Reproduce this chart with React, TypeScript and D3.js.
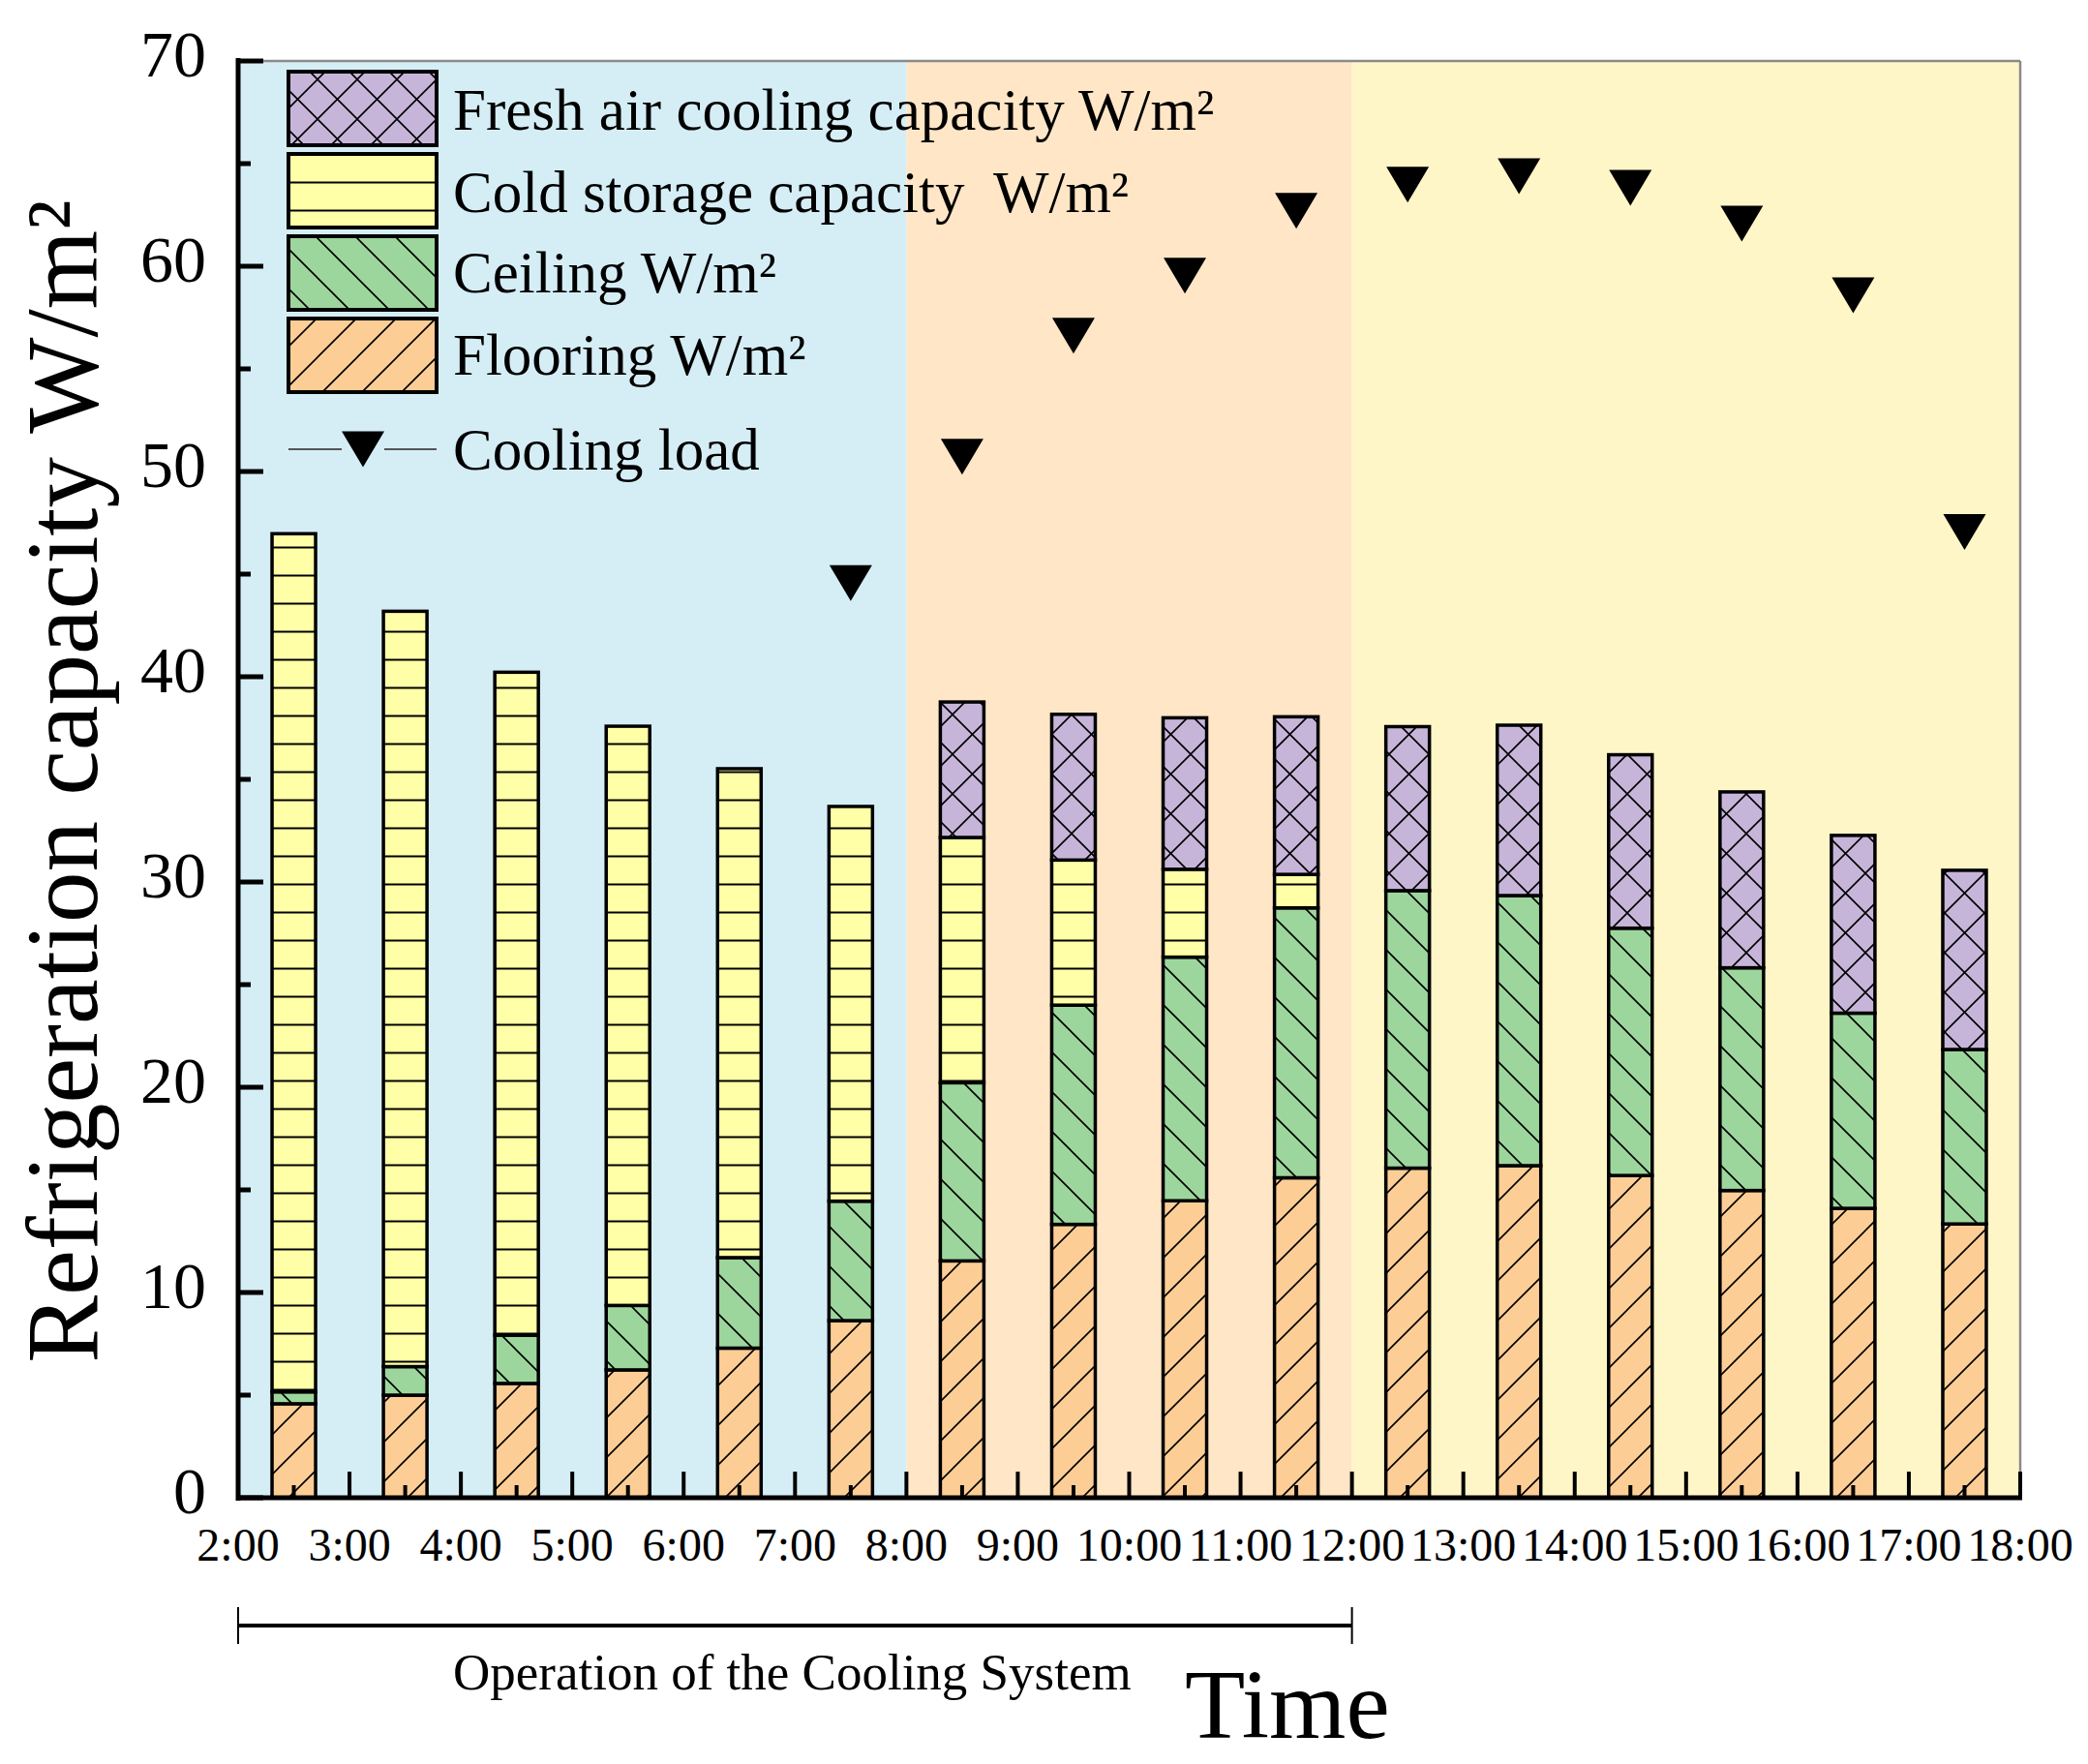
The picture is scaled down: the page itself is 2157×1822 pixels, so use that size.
import React from "react";
import * as d3 from "d3";

const W = 2157;
const H = 1822;

// Bars start hours (bar i spans hour i .. i+1, centred at the half hour)
const hours = [2, 3, 4, 5, 6, 7, 8, 9, 10, 11, 12, 13, 14, 15, 16, 17];
const tickHours = [2, 3, 4, 5, 6, 7, 8, 9, 10, 11, 12, 13, 14, 15, 16, 17, 18];
const tickLabels = ["2:00", "3:00", "4:00", "5:00", "6:00", "7:00", "8:00", "9:00", "10:00", "11:00", "12:00", "13:00", "14:00", "15:00", "16:00", "17:00", "18:00"];
const yTicks = [0, 10, 20, 30, 40, 50, 60, 70];
const yMinor = [5, 15, 25, 35, 45, 55, 65];

const flooring = [4.58, 5.0, 5.57, 6.23, 7.29, 8.63, 11.54, 13.32, 14.47, 15.59, 16.06, 16.18, 15.7, 14.97, 14.1, 13.34];
const ceiling = [0.58, 1.39, 2.35, 3.14, 4.41, 5.82, 8.68, 10.68, 11.87, 13.15, 13.52, 13.16, 12.05, 10.85, 9.51, 8.5];
const coldStorage = [41.81, 36.8, 32.3, 28.22, 23.82, 19.23, 11.95, 7.07, 4.28, 1.63, 0, 0, 0, 0, 0, 0];
const freshAir = [0, 0, 0, 0, 0, 0, 6.6, 7.1, 7.38, 7.68, 7.99, 8.3, 8.45, 8.57, 8.66, 8.73];

const loadHours = [7, 8, 9, 10, 11, 12, 13, 14, 15, 16, 17];
const coolingLoad = [44.56, 50.72, 56.62, 59.54, 62.7, 63.97, 64.39, 63.82, 62.08, 58.59, 47.05];

// background periods [start, end]
const periods = [
  { start: 2, end: 8, color: "#d5eef6" },
  { start: 8, end: 12, color: "#ffe6c7" },
  { start: 12, end: 18, color: "#fff6c8" },
];

const seriesKeys = ["flooring", "ceiling", "storage", "fresh"];
const seriesInfo: Record<string, { fill: string; pattern: string; label: string }> = {
  fresh: { fill: "#c6b5d9", pattern: "patCross", label: "Fresh air cooling capacity W/m²" },
  storage: { fill: "#ffffa8", pattern: "patHoriz", label: "Cold storage capacity  W/m²" },
  ceiling: { fill: "#9dd69d", pattern: "patBack", label: "Ceiling W/m²" },
  flooring: { fill: "#fdcd96", pattern: "patFwd", label: "Flooring W/m²" },
};
const legendOrder = ["fresh", "storage", "ceiling", "flooring"];

const FONT = "'Liberation Serif', 'Times New Roman', serif";

export default function App() {
  const left = 246;
  const right = 2087;
  const top = 63;
  const bottom = 1547;

  const x = d3.scaleLinear().domain([2, 18]).range([left, right]);
  const y = d3.scaleLinear().domain([0, 70]).range([bottom, top]);

  const rows = hours.map((h, i) => ({
    hour: h,
    flooring: flooring[i],
    ceiling: ceiling[i],
    storage: coldStorage[i],
    fresh: freshAir[i],
  }));
  const stacked = d3.stack<any>().keys(seriesKeys)(rows);

  const barW = 45;
  const s = 41;
  const hs = 29;

  const tri = (cx: number, cy: number) => {
    const w = 44;
    const h = 37;
    return `M${cx - w / 2},${cy - h / 2}L${cx + w / 2},${cy - h / 2}L${cx},${cy + h / 2}Z`;
  };

  const legX = 298;
  const legW = 153;
  const legH = 76;
  const legY = [74, 159, 244, 329];
  const legTextX = 468;
  const legBase = [134, 219, 302, 387];

  return (
    <svg
      width={W}
      height={H}
      viewBox={`0 0 ${W} ${H}`}
      style={{ position: "absolute", left: 0, top: 0, background: "#ffffff" }}
      fontFamily={FONT}
    >
      <defs>
        <pattern id="patFwd" patternUnits="userSpaceOnUse" width={s} height={s}>
          <rect width={s} height={s} fill={seriesInfo.flooring.fill} />
          <path
            d={`M0,${s}L${s},0M${-s / 4},${s / 4}L${s / 4},${-s / 4}M${(3 * s) / 4},${(5 * s) / 4}L${(5 * s) / 4},${(3 * s) / 4}`}
            stroke="#000"
            strokeWidth={1.6}
          />
        </pattern>
        <pattern id="patBack" patternUnits="userSpaceOnUse" width={s} height={s}>
          <rect width={s} height={s} fill={seriesInfo.ceiling.fill} />
          <path
            d={`M0,0L${s},${s}M${-s / 4},${(3 * s) / 4}L${s / 4},${(5 * s) / 4}M${(3 * s) / 4},${-s / 4}L${(5 * s) / 4},${s / 4}`}
            stroke="#000"
            strokeWidth={1.6}
          />
        </pattern>
        <pattern id="patCross" patternUnits="userSpaceOnUse" width={s} height={s}>
          <rect width={s} height={s} fill={seriesInfo.fresh.fill} />
          <path
            d={`M0,${s}L${s},0M${-s / 4},${s / 4}L${s / 4},${-s / 4}M${(3 * s) / 4},${(5 * s) / 4}L${(5 * s) / 4},${(3 * s) / 4}M0,0L${s},${s}M${-s / 4},${(3 * s) / 4}L${s / 4},${(5 * s) / 4}M${(3 * s) / 4},${-s / 4}L${(5 * s) / 4},${s / 4}`}
            stroke="#000"
            strokeWidth={1.6}
          />
        </pattern>
        <pattern id="patHoriz" patternUnits="userSpaceOnUse" width={20} height={hs}>
          <rect width={20} height={hs} fill={seriesInfo.storage.fill} />
          <path d={`M0,${hs / 2}H20`} stroke="#000" strokeWidth={2} />
        </pattern>
      </defs>

      {/* background periods */}
      {periods.map((p) => (
        <rect key={p.start} x={x(p.start)} y={top} width={x(p.end) - x(p.start)} height={bottom - top} fill={p.color} />
      ))}

      {/* frame top & right */}
      <line x1={left} x2={right} y1={top} y2={top} stroke="#8a8a8a" strokeWidth={2.5} />
      <line x1={right} x2={right} y1={top} y2={bottom} stroke="#8a8a8a" strokeWidth={2.5} />

      {/* bars */}
      {stacked.map((layer) =>
        layer.map((d, i) => {
          const v = d[1] - d[0];
          if (v <= 0) return null;
          const cx = x(rows[i].hour + 0.5);
          return (
            <rect
              key={layer.key + i}
              x={cx - barW / 2}
              y={y(d[1])}
              width={barW}
              height={y(d[0]) - y(d[1])}
              fill={`url(#${seriesInfo[layer.key].pattern})`}
              stroke="#000"
              strokeWidth={3.5}
            />
          );
        })
      )}

      {/* cooling load markers */}
      {loadHours.map((h, i) => (
        <path key={"t" + h} d={tri(x(h + 0.5), y(coolingLoad[i]))} fill="#000" />
      ))}

      {/* axes */}
      <line x1={left} x2={left} y1={top - 3} y2={bottom + 3} stroke="#000" strokeWidth={5} />
      <line x1={left - 2} x2={right + 2} y1={bottom} y2={bottom} stroke="#000" strokeWidth={5} />
      {yTicks.map((t) => (
        <line key={"yt" + t} x1={left} x2={left + 26} y1={y(t)} y2={y(t)} stroke="#000" strokeWidth={5} />
      ))}
      {yMinor.map((t) => (
        <line key={"ym" + t} x1={left} x2={left + 13} y1={y(t)} y2={y(t)} stroke="#000" strokeWidth={5} />
      ))}
      {tickHours.map((h) => (
        <line key={"xt" + h} x1={x(h)} x2={x(h)} y1={bottom} y2={bottom - 27} stroke="#000" strokeWidth={4} />
      ))}
      {hours.map((h) => (
        <line key={"xm" + h} x1={x(h + 0.5)} x2={x(h + 0.5)} y1={bottom} y2={bottom - 13} stroke="#000" strokeWidth={4} />
      ))}

      {/* tick labels */}
      {yTicks.map((t) => (
        <text key={"yl" + t} x={213} y={y(t) + 16} textAnchor="end" fontSize={68} fill="#000">
          {t}
        </text>
      ))}
      {tickHours.map((h, i) => (
        <text key={"xl" + h} x={x(h)} y={1612} textAnchor="middle" fontSize={48} fill="#000">
          {tickLabels[i]}
        </text>
      ))}

      {/* axis titles */}
      <text transform="translate(100,807) rotate(-90)" textAnchor="middle" fontSize={105} fill="#000">
        Refrigeration capacity W/m²
      </text>
      <text x={1224} y={1795} fontSize={102} fill="#000">
        Time
      </text>

      {/* operation bracket */}
      <line x1={x(2)} x2={x(12)} y1={1679} y2={1679} stroke="#000" strokeWidth={4} />
      <line x1={x(2)} x2={x(2)} y1={1660} y2={1698} stroke="#000" strokeWidth={2} />
      <line x1={x(12)} x2={x(12)} y1={1660} y2={1698} stroke="#000" strokeWidth={2} />
      <text x={468} y={1745} fontSize={53} fill="#000">
        Operation of the Cooling System
      </text>

      {/* legend */}
      {legendOrder.map((k, i) => (
        <g key={"lg" + k}>
          <rect x={legX} y={legY[i]} width={legW} height={legH} fill={`url(#${seriesInfo[k].pattern})`} stroke="#000" strokeWidth={4} />
          <text x={legTextX} y={legBase[i]} fontSize={61} fill="#000" style={{ whiteSpace: "pre" }}>
            {seriesInfo[k].label}
          </text>
        </g>
      ))}
      <line x1={legX} x2={legX + 55} y1={464} y2={464} stroke="#555" strokeWidth={2} />
      <line x1={legX + 99} x2={legX + legW} y1={464} y2={464} stroke="#555" strokeWidth={2} />
      <path d={tri(legX + 77, 464)} fill="#000" />
      <text x={legTextX} y={485} fontSize={61} fill="#000">
        Cooling load
      </text>
    </svg>
  );
}
